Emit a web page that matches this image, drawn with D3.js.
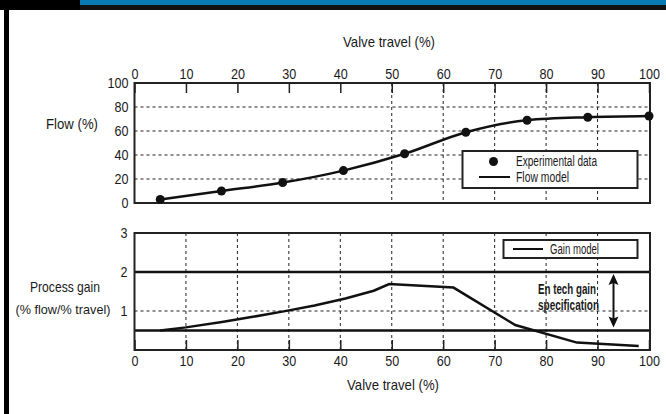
<!DOCTYPE html>
<html>
<head>
<meta charset="utf-8">
<script src="https://cdn.jsdelivr.net/npm/d3@7"></script>
<style>
  html, body { margin: 0; padding: 0; background: #fff; }
  svg text { font-family: "Liberation Sans", Arial, sans-serif; fill: #1a1a1a; }
</style>
</head>
<body>
<script>
// valve travel (%) vs flow (%) -- experimental points
var travel = [5, 16.9, 28.8, 40.6, 52.5, 64.4, 76.3, 88.1, 100];
var flow = [3, 10, 17, 27, 41, 59, 69, 71.5, 72.5];

// gain model (% flow / % travel)
var gainTravel = [5, 10, 17, 23, 29, 35, 41, 46.5, 49.5, 62, 74, 86, 98];
var gain = [0.5, 0.58, 0.72, 0.85, 0.99, 1.14, 1.32, 1.52, 1.69, 1.6, 0.64, 0.19, 0.1];

// En tech gain specification band
var specLimits = [0.5, 2];

var xTicks = [0, 10, 20, 30, 40, 50, 60, 70, 80, 90, 100];
var flowTicks = [0, 20, 40, 60, 80, 100];
var gainTicks = [1, 2, 3];

var W = 666, H = 414;
var svg = d3.select("body").append("svg").attr("width", W).attr("height", H);

// page decoration: top bars + left rule
svg.append("rect").attr("x", 0).attr("y", 0).attr("width", W).attr("height", 5).attr("fill", "#0a7ab5");
svg.append("rect").attr("x", 0).attr("y", 5).attr("width", W).attr("height", 5).attr("fill", "#111");
svg.append("rect").attr("x", 0).attr("y", 0).attr("width", 80).attr("height", 10).attr("fill", "#000");
svg.append("rect").attr("x", 4).attr("y", 10).attr("width", 5).attr("height", H - 10).attr("fill", "#000");

var x = d3.scaleLinear().domain([0, 100]).range([134.5, 649]);
var yF = d3.scaleLinear().domain([0, 100]).range([203, 83]);
var yG = d3.scaleLinear().domain([0, 3]).range([350, 233]);

var dash = "3,3";
var fs = 15;

// squeeze a label to the narrow width used in the original artwork
function label(sel, px, py, txt, w, anchor, size, bold) {
    var t = sel.append("text").attr("x", px).attr("y", py).attr("dy", "0.35em")
        .attr("text-anchor", anchor || "start").attr("font-size", size || fs).text(txt);
    if (w) t.attr("textLength", w).attr("lengthAdjust", "spacingAndGlyphs");
    if (bold) t.attr("font-weight", "bold");
    return t;
}
// narrow tick labels
function styleTicks(g) {
    g.select(".domain").remove();
    g.selectAll("line").attr("stroke", "#222").attr("stroke-width", 1.5);
    g.selectAll("text").attr("font-size", fs).attr("font-family", null).attr("fill", "#1a1a1a")
        .each(function () {
            var n = this.textContent.length;
            d3.select(this).attr("textLength", n * 7).attr("lengthAdjust", "spacingAndGlyphs");
        });
}

//===== top chart: flow
var gTop = svg.append("g");
gTop.selectAll(".hg").data(flowTicks.slice(1, -1)).enter().append("line")
    .attr("x1", x(0)).attr("x2", x(100)).attr("y1", yF).attr("y2", yF)
    .attr("stroke", "#222").attr("stroke-width", 1).attr("stroke-dasharray", dash);
gTop.selectAll(".vg").data([50, 60, 70, 80, 90]).enter().append("line")
    .attr("x1", x).attr("x2", x).attr("y1", yF(100)).attr("y2", yF(0))
    .attr("stroke", "#222").attr("stroke-width", 1).attr("stroke-dasharray", dash);

gTop.append("g").attr("transform", "translate(0," + yF(100) + ")")
    .call(d3.axisTop(x).tickValues(xTicks).tickSizeInner(-10).tickSizeOuter(0).tickPadding(4))
    .call(styleTicks);
gTop.append("g").attr("transform", "translate(" + x(0) + ",0)")
    .call(d3.axisLeft(yF).tickValues(flowTicks).tickSize(0).tickPadding(6))
    .call(styleTicks);

gTop.append("rect").attr("x", x(0)).attr("y", yF(100)).attr("width", x(100) - x(0) + 1).attr("height", yF(0) - yF(100))
    .attr("fill", "none").attr("stroke", "#222").attr("stroke-width", 2);

var pts = travel.map(function (t, i) { return [t, flow[i]]; });
var flowLine = d3.line().x(function (d) { return x(d[0]); }).y(function (d) { return yF(d[1]); }).curve(d3.curveMonotoneX);
gTop.append("path").attr("d", flowLine(pts)).attr("fill", "none").attr("stroke", "#111").attr("stroke-width", 2.5);
gTop.selectAll(".pt").data(pts).enter().append("circle")
    .attr("cx", function (d) { return x(d[0]); }).attr("cy", function (d) { return yF(d[1]); })
    .attr("r", 4.5).attr("fill", "#111");

// legend
var lg = gTop.append("g");
lg.append("rect").attr("x", 462.5).attr("y", 151).attr("width", 175).attr("height", 37)
    .attr("fill", "#fff").attr("stroke", "#222").attr("stroke-width", 2);
lg.append("circle").attr("cx", 493.5).attr("cy", 161.5).attr("r", 4.5).attr("fill", "#111");
lg.append("line").attr("x1", 479).attr("x2", 510).attr("y1", 177).attr("y2", 177).attr("stroke", "#111").attr("stroke-width", 2);
label(lg, 516, 161.5, "Experimental data", 81, "start", 14);
label(lg, 516, 177, "Flow model", 53, "start", 14);

label(svg, 389, 42, "Valve travel (%)", 92, "middle");
label(svg, 72, 124, "Flow (%)", 52, "middle");

//===== bottom chart: process gain
var gBot = svg.append("g");
gBot.selectAll(".vg").data(xTicks.slice(1, -1)).enter().append("line")
    .attr("x1", x).attr("x2", x).attr("y1", yG(3)).attr("y2", yG(0))
    .attr("stroke", "#222").attr("stroke-width", 1).attr("stroke-dasharray", dash);
gBot.append("line").attr("x1", x(0)).attr("x2", x(100)).attr("y1", yG(1)).attr("y2", yG(1))
    .attr("stroke", "#222").attr("stroke-width", 1).attr("stroke-dasharray", dash);

gBot.append("g").attr("transform", "translate(0," + yG(0) + ")")
    .call(d3.axisBottom(x).tickValues(xTicks).tickSizeInner(-10).tickSizeOuter(0).tickPadding(5))
    .call(styleTicks);
gBot.append("g").attr("transform", "translate(" + x(0) + ",0)")
    .call(d3.axisLeft(yG).tickValues(gainTicks).tickFormat(d3.format("d")).tickSize(0).tickPadding(7))
    .call(styleTicks);

gBot.selectAll(".spec").data(specLimits).enter().append("line")
    .attr("x1", x(0)).attr("x2", x(100)).attr("y1", yG).attr("y2", yG)
    .attr("stroke", "#111").attr("stroke-width", 2.5);

gBot.append("rect").attr("x", x(0)).attr("y", yG(3)).attr("width", x(100) - x(0) + 1).attr("height", yG(0) - yG(3))
    .attr("fill", "none").attr("stroke", "#222").attr("stroke-width", 2);

var gpts = gainTravel.map(function (t, i) { return [t, gain[i]]; });
var gainLine = d3.line().x(function (d) { return x(d[0]); }).y(function (d) { return yG(d[1]); });
gBot.append("path").attr("d", gainLine(gpts)).attr("fill", "none").attr("stroke", "#111").attr("stroke-width", 2.5);

// legend
gBot.append("rect").attr("x", 503.5).attr("y", 240).attr("width", 134).attr("height", 18)
    .attr("fill", "#fff").attr("stroke", "#222").attr("stroke-width", 2);
gBot.append("line").attr("x1", 513).attr("x2", 543).attr("y1", 249).attr("y2", 249).attr("stroke", "#111").attr("stroke-width", 2);
label(gBot, 550, 249, "Gain model", 49, "start", 14);

// spec annotation + double arrow
label(gBot, 538, 289, "En tech gain", 58, "start", 14, true);
label(gBot, 538, 305, "specification", 61, "start", 14, true);

var ax = 613.5, ay1 = yG(specLimits[1]) + 2, ay2 = yG(specLimits[0]) - 3;
gBot.append("line").attr("x1", ax).attr("x2", ax).attr("y1", ay1 + 8).attr("y2", ay2 - 8).attr("stroke", "#111").attr("stroke-width", 2);
gBot.append("path").attr("d", d3.line()([[ax, ay1], [ax - 5, ay1 + 11], [ax, ay1 + 9], [ax + 5, ay1 + 11]]) + "Z").attr("fill", "#111");
gBot.append("path").attr("d", d3.line()([[ax, ay2], [ax - 5, ay2 - 11], [ax, ay2 - 9], [ax + 5, ay2 - 11]]) + "Z").attr("fill", "#111");

label(svg, 393, 385, "Valve travel (%)", 92, "middle");
label(svg, 65, 287, "Process gain", 70, "middle");
label(svg, 63, 309, "(% flow/% travel)", 95, "middle", 13.5);
</script>
</body>
</html>
